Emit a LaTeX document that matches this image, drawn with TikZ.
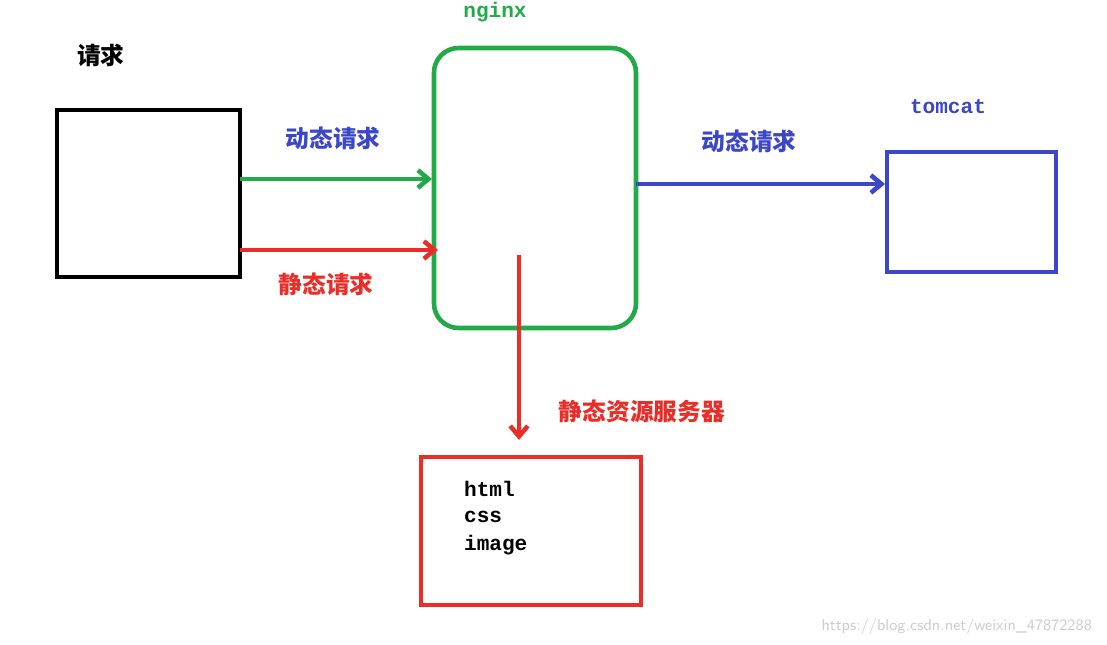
\documentclass[tikz,border=0pt]{standalone}
\usepackage{fontspec}
\setmonofont{Liberation Mono}
\newfontfamily\cjk{Noto Sans CJK SC}
\usetikzlibrary{arrows.meta}
\definecolor{ngreen}{RGB}{34,170,72}
\definecolor{tblue}{RGB}{60,70,200}
\definecolor{sred}{RGB}{235,45,40}
\begin{document}
\begin{tikzpicture}[x=0.02cm,y=-0.02cm,>={Straight Barb[length=6pt,width=10pt]},
                    line width=2.6pt]
\tikzset{lbl/.style={font=\cjk\bfseries\fontsize{13.5pt}{16pt}\selectfont},
         code/.style={font=\ttfamily\bfseries\large}}
\useasboundingbox (0,0) rectangle (1107,645);

        \draw[black]                      (57,110) rectangle (240,277);
        \draw[ngreen,rounded corners=14pt] (434,48) rectangle (636,328);
        \draw[tblue]                      (887,152) rectangle (1056,272);
        \draw[sred]                       (421,457) rectangle (641,605);

        \node[lbl]              (req)   at (101,55)  {请求};
        \node[code,ngreen]      (ngx)   at (495,12)  {nginx};
        \node[code,tblue]       (tom)   at (948,107) {tomcat};
        \node[lbl,tblue]        (dyn1)  at (333,138) {动态请求};
        \node[lbl,tblue]        (dyn2)  at (749,141) {动态请求};
        \node[lbl,sred]         (sta)   at (326,284) {静态请求};
        \node[lbl,sred]         (srv)   at (642,411) {静态资源服务器};
        \node[code,anchor=west] (html)  at (456,489) {html};
        \node[code,anchor=west] (css)   at (456,517) {css};
        \node[code,anchor=west] (img)   at (456,545) {image};
        \node[gray!40,font=\sffamily\small,anchor=east] (mark) at (1100,627)
              {https://blog.csdn.net/weixin\_47872288};

        \coordinate (g0) at (240,179);  \coordinate (g1) at (432,179);
        \coordinate (r0) at (240,250);  \coordinate (r1) at (438,250);
        \coordinate (b0) at (636,184);  \coordinate (b1) at (885,184);
        \coordinate (v0) at (519,255);  \coordinate (v1) at (519,440);

        \draw[->,ngreen] (g0) -- (g1);
        \draw[->,sred]   (r0) -- (r1);
        \draw[->,tblue]  (b0) -- (b1);
        \draw[->,sred]   (v0) -- (v1);
\end{tikzpicture}
\end{document}
